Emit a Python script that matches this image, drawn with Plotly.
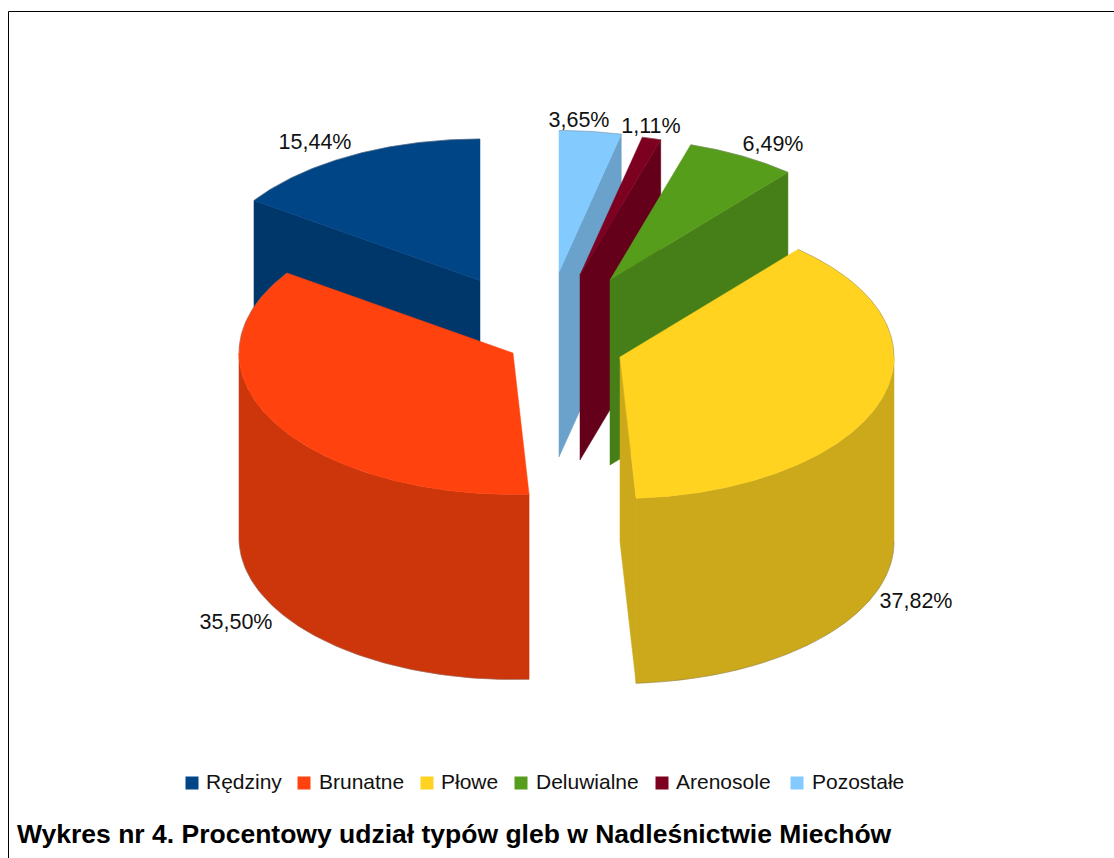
import numpy as np
import plotly.graph_objects as go

# ---- data ----
categories = ["Rędziny", "Brunatne", "Płowe", "Deluwialne", "Arenosole", "Pozostałe"]
shares = [15.44, 35.50, 37.82, 6.49, 1.11, 3.65]
title_text = "Wykres nr 4. Procentowy udział typów gleb w Nadleśnictwie Miechów"

# ---- style ----
top_colors = ["#004586", "#ff420e", "#ffd320", "#579d1c", "#7e0021", "#83caff"]
wall_colors = ["#00376b", "#cd350b", "#cba91a", "#467e17", "#65001a", "#6aa2cc"]
FONT = "Liberation Sans, Arial, sans-serif"
CX, CY = 564, 318        # pie centre on the page
RX, RY = 274, 141.5      # ellipse of the top face
DEPTH = 185              # extrusion
pull = [(-84, -37.5), (-51, 35), (56, 39), (46, -38), (16, -43), (-5, -46)]  # per-slice explosion
label_at = [(315, 144), (236, 624), (916, 603), (773, 146), (651, 128), (579, 122)]
legend_sw = [192, 304, 427, 521, 662, 797]
legend_tx = [206, 319, 441, 536, 676, 812]
LEGEND_Y = 783
LEGEND_TEXT_Y = 784
draw_order = [0, 5, 4, 3, 2, 1]
EDGE = dict(color="rgba(120,120,120,0.6)", width=0.7)


def rim(ax, ay, a0, a1):
    t = np.radians(np.linspace(a0, a1, max(int(abs(a1 - a0)) * 2, 2) + 1))
    return ax - RX * np.sin(t), ay - RY * np.cos(t)


def poly(fig, xs, ys, color, name):
    fig.add_trace(go.Scatter(x=list(xs), y=list(ys), fill="toself", fillcolor=color,
                             mode="lines", line=dict(color=color, width=0.5), name=name,
                             hoverinfo="name", showlegend=False))


def edge(fig, xs, ys):
    fig.add_trace(go.Scatter(x=list(xs), y=list(ys), mode="lines", line=EDGE,
                             hoverinfo="skip", showlegend=False))


edges = np.concatenate([[0], np.cumsum(shares)]) / np.sum(shares) * 360
fig = go.Figure()

for i in draw_order:
    a0, a1 = edges[i], edges[i + 1]
    ax, ay = CX + pull[i][0], CY + pull[i][1]
    name = categories[i]
    # radial cut faces that look towards the viewer
    for a, visible in ((a0, np.sin(np.radians(a0)) < -1e-6), (a1, np.sin(np.radians(a1)) > 1e-6)):
        if visible:
            ex, ey = rim(ax, ay, a, a)
            poly(fig, [ax, ex[0], ex[0], ax, ax], [ay, ey[0], ey[0] + DEPTH, ay + DEPTH, ay],
                 wall_colors[i], name)
    # outer wall, front half only
    f0, f1 = max(a0, 90), min(a1, 270)
    if f1 > f0:
        rx, ry = rim(ax, ay, f0, f1)
        poly(fig, np.r_[rx, rx[::-1], rx[0]], np.r_[ry, ry[::-1] + DEPTH, ry[0]],
             wall_colors[i], name)
        edge(fig, rx, ry + DEPTH)
    # top face
    tx, ty = rim(ax, ay, a0, a1)
    poly(fig, np.r_[ax, tx, ax], np.r_[ay, ty, ay], top_colors[i], name)
    # thin rim on the back half of the top face
    if a0 < 90:
        bx, by = rim(ax, ay, a0, min(a1, 90))
        edge(fig, bx, by)
    if a1 > 270:
        bx, by = rim(ax, ay, max(a0, 270), a1)
        edge(fig, bx, by)

# percentage labels
fig.add_trace(go.Scatter(
    x=[p[0] for p in label_at], y=[p[1] for p in label_at], mode="text",
    text=[f"{v:.2f}%".replace(".", ",") for v in shares],
    textposition="middle center",
    textfont=dict(family=FONT, size=21.5, color="#111111"),
    hoverinfo="skip", showlegend=False))

# legend row
fig.add_trace(go.Scatter(
    x=legend_sw, y=[LEGEND_Y] * len(categories), mode="markers",
    marker=dict(symbol="square", size=13, color=top_colors, line=dict(width=0)),
    hoverinfo="skip", showlegend=False))
fig.add_trace(go.Scatter(
    x=legend_tx, y=[LEGEND_TEXT_Y] * len(categories), mode="text", text=categories,
    textposition="middle right",
    textfont=dict(family=FONT, size=21, color="#111111"),
    hoverinfo="skip", showlegend=False))

fig.update_layout(
    width=1114, height=858, margin=dict(l=0, r=0, t=0, b=0),
    paper_bgcolor="white", plot_bgcolor="white", showlegend=False,
    xaxis=dict(range=[0, 1114], visible=False, fixedrange=True),
    yaxis=dict(range=[858, 0], visible=False, fixedrange=True),
    shapes=[
        dict(type="line", xref="x", yref="y", x0=8.5, x1=8.5, y0=11.5, y1=858,
             line=dict(color="black", width=1)),
        dict(type="line", xref="x", yref="y", x0=8.5, x1=1114, y0=11.5, y1=11.5,
             line=dict(color="black", width=1)),
    ],
    annotations=[dict(text=f"<b>{title_text}</b>", xref="x", yref="y", x=15, y=834,
                      xanchor="left", yanchor="middle", showarrow=False,
                      font=dict(family=FONT, size=26.5, color="black"))],
)

fig.write_html("out.html", config={"displayModeBar": False},
               post_script="document.body.style.margin='0';document.body.style.overflow='hidden';")
